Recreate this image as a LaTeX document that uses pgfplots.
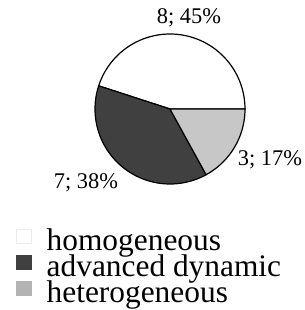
\documentclass[border=0pt]{standalone}
\usepackage{pgfplots}
\pgfplotsset{compat=1.18}
\usepackage{fontspec}
\setmainfont{Liberation Serif}
\definecolor{darkslice}{gray}{0.25}
\definecolor{lightslice}{gray}{0.78}
\begin{document}
\begin{tikzpicture}
\path[use as bounding box] (0,0) rectangle (305bp,310bp);
% data: homogeneous 8 (45%), advanced dynamic 7 (38%), heterogeneous 3 (17%)
\def\cx{170}\def\cy{201}\def\r{75}
\pgfmathsetmacro{\aA}{0}
\pgfmathsetmacro{\aB}{\aA+3.6*45}
\pgfmathsetmacro{\aC}{\aB+3.6*38}
\pgfmathsetmacro{\aD}{\aC+3.6*17}
\begin{axis}[
  hide axis, scale only axis, width=305bp, height=310bp,
  xmin=0, xmax=305, ymin=0, ymax=310, clip=false,
  legend style={at={(axis cs:16,81)}, anchor=north west, draw=none, fill=none,
    inner sep=0pt, column sep=15bp, row sep=0pt,
    font=\fontsize{31.5}{25}\selectfont,
    nodes={inner sep=0pt, text height=21bp, text depth=4.5bp}},
  legend cell align=left,
]
\addplot[fill=white, draw=black, line width=1.2bp, domain=\aA:\aB, samples=80, forget plot]
  ({\cx+\r*cos(x)},{\cy+\r*sin(x)}) -- (axis cs:\cx,\cy) -- cycle;
\addplot[fill=darkslice, draw=black, line width=1.2bp, domain=\aB:\aC, samples=80, forget plot]
  ({\cx+\r*cos(x)},{\cy+\r*sin(x)}) -- (axis cs:\cx,\cy) -- cycle;
\addplot[fill=lightslice, draw=black, line width=1.2bp, domain=\aC:\aD, samples=40, forget plot]
  ({\cx+\r*cos(x)},{\cy+\r*sin(x)}) -- (axis cs:\cx,\cy) -- cycle;
\addlegendimage{legend image code/.code={\filldraw[draw=black!8, fill=white, line width=0.5bp] (0bp,-1bp) rectangle (15bp,13bp);}}
\addlegendentry{homogeneous}
\addlegendimage{legend image code/.code={\fill[darkslice] (0bp,-1bp) rectangle (15bp,13bp);}}
\addlegendentry{advanced dynamic}
\addlegendimage{legend image code/.code={\fill[lightslice!90!black] (0bp,-1bp) rectangle (15bp,13bp);}}
\addlegendentry{heterogeneous}
\node[font=\fontsize{22.5}{24}\selectfont] at (axis cs:189,292) {8; 45\%};
\node[font=\fontsize{22.5}{24}\selectfont] at (axis cs:270,150) {3; 17\%};
\node[font=\fontsize{22.5}{24}\selectfont] at (axis cs:86,127) {7; 38\%};
\end{axis}
\end{tikzpicture}
\end{document}
